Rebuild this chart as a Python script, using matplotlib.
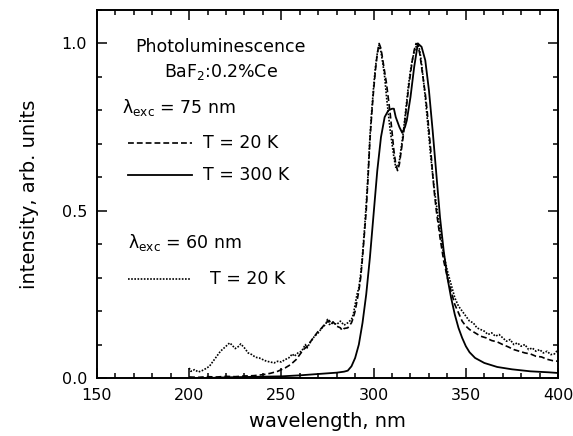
import matplotlib
matplotlib.use("Agg")
import matplotlib.pyplot as plt
from matplotlib.ticker import MultipleLocator

# T = 300 K, lambda_exc = 75 nm (solid)
wl_300 = [200, 210, 220, 230, 240, 250, 260, 270, 275, 280, 284, 286, 288, 290, 292, 294,
          296, 298, 300, 302, 304, 306, 308, 310, 311, 312, 314, 315.5, 317, 318, 320, 322,
          324, 326, 328, 330, 332, 334, 336, 338, 340, 342, 344, 346, 348, 350, 352, 355,
          360, 367, 375, 385, 395, 400]
int_300 = [0.0, 0.0, 0.002, 0.003, 0.004, 0.005, 0.008, 0.012, 0.014, 0.016, 0.019, 0.022,
           0.035, 0.06, 0.10, 0.165, 0.25, 0.36, 0.49, 0.62, 0.72, 0.78, 0.80, 0.805, 0.805,
           0.78, 0.75, 0.733, 0.75, 0.77, 0.84, 0.93, 1.0, 0.99, 0.95, 0.86, 0.74, 0.61,
           0.48, 0.38, 0.30, 0.24, 0.19, 0.15, 0.12, 0.095, 0.077, 0.06, 0.045, 0.033,
           0.026, 0.02, 0.017, 0.015]

# T = 20 K, lambda_exc = 75 nm (dashed)
wl_20_75 = [200, 205, 210, 215, 220, 225, 230, 235, 240, 244, 248, 250, 252, 255, 258, 260,
            262, 264, 266, 268, 270, 272, 274, 276, 277, 278, 280, 282, 283, 284, 286, 288,
            289, 290, 291, 292, 293, 294, 295, 296, 297, 298, 299, 300, 301, 302, 303, 304,
            305, 307, 309, 311, 312, 313, 314, 315, 316, 317, 318, 319, 320, 321, 322, 323,
            324, 325, 326, 327, 328, 329, 330, 331, 332, 333, 334, 336, 338, 340, 342, 344,
            346, 348, 350, 352, 355, 358, 361, 364, 367, 370, 373, 376, 379, 382, 385, 388,
            391, 394, 397, 400]
int_20_75 = [0.003, 0.002, 0.004, 0.003, 0.005, 0.004, 0.006, 0.007, 0.010, 0.014, 0.020,
             0.025, 0.030, 0.040, 0.055, 0.070, 0.085, 0.095, 0.110, 0.125, 0.140, 0.150,
             0.165, 0.172, 0.160, 0.168, 0.155, 0.150, 0.142, 0.148, 0.150, 0.165, 0.180,
             0.200, 0.230, 0.260, 0.300, 0.360, 0.430, 0.500, 0.600, 0.710, 0.790, 0.860,
             0.920, 0.970, 1.000, 0.985, 0.950, 0.880, 0.790, 0.680, 0.640, 0.620, 0.640,
             0.680, 0.720, 0.770, 0.820, 0.870, 0.910, 0.950, 0.980, 1.000, 0.995, 0.970,
             0.930, 0.890, 0.850, 0.800, 0.740, 0.680, 0.610, 0.550, 0.500, 0.420, 0.350,
             0.300, 0.260, 0.220, 0.195, 0.170, 0.155, 0.145, 0.135, 0.125, 0.120, 0.112,
             0.108, 0.100, 0.093, 0.085, 0.080, 0.075, 0.072, 0.065, 0.063, 0.056, 0.052,
             0.050]

# T = 20 K, lambda_exc = 60 nm (dotted)
wl_20_60 = [200, 201, 203, 205, 207, 209, 211, 213, 215, 217, 219, 221, 222, 223, 225, 227,
            228, 230, 232, 234, 236, 238, 240, 242, 244, 246, 248, 250, 252, 254, 256, 257,
            259, 261, 263, 264, 266, 268, 270, 272, 274, 275, 276, 278, 280, 282, 284, 286,
            288, 289, 290, 291, 292, 293, 294, 295, 296, 297, 298, 299, 300, 301, 302, 303,
            304, 305, 306, 307, 308, 309, 310, 311, 312, 313, 314, 315, 316, 317, 318, 319,
            320, 321, 322, 323, 324, 325, 326, 327, 328, 329, 330, 331, 332, 333, 334, 336,
            338, 340, 342, 344, 346, 348, 350, 352, 354, 356, 358, 360, 362, 364, 366, 368,
            370, 372, 374, 376, 378, 380, 382, 384, 386, 388, 390, 392, 394, 396, 398, 400]
int_20_60 = [0.030, 0.020, 0.025, 0.018, 0.022, 0.028, 0.035, 0.050, 0.065, 0.080, 0.090,
             0.100, 0.105, 0.100, 0.088, 0.095, 0.102, 0.090, 0.075, 0.070, 0.062, 0.060,
             0.055, 0.050, 0.048, 0.045, 0.050, 0.048, 0.055, 0.060, 0.072, 0.065, 0.075,
             0.080, 0.100, 0.090, 0.110, 0.125, 0.135, 0.150, 0.160, 0.175, 0.160, 0.165,
             0.160, 0.170, 0.158, 0.165, 0.175, 0.190, 0.220, 0.250, 0.270, 0.310, 0.370,
             0.440, 0.520, 0.610, 0.720, 0.800, 0.870, 0.930, 0.970, 0.995, 0.975, 0.940,
             0.900, 0.840, 0.790, 0.740, 0.700, 0.660, 0.630, 0.630, 0.650, 0.690, 0.730,
             0.780, 0.830, 0.880, 0.920, 0.950, 0.975, 0.990, 1.000, 0.980, 0.940, 0.890,
             0.840, 0.780, 0.720, 0.660, 0.610, 0.560, 0.520, 0.440, 0.370, 0.320, 0.280,
             0.240, 0.215, 0.200, 0.185, 0.170, 0.165, 0.150, 0.145, 0.140, 0.130, 0.135,
             0.125, 0.130, 0.120, 0.110, 0.115, 0.100, 0.105, 0.095, 0.100, 0.085, 0.090,
             0.080, 0.085, 0.075, 0.080, 0.070, 0.072, 0.085]

x_ticks = [150, 200, 250, 300, 350, 400]
y_ticks = [0.0, 0.5, 1.0]
y_ticklabels = ['0.0', '0.5', '1.0']

plt.rcParams['font.family'] = ['DejaVu Sans']
plt.rcParams['mathtext.fontset'] = 'dejavusans'
fig = plt.figure(figsize=(5.73, 4.36), dpi=100)
ax = fig.add_axes([0.169, 0.133, 0.805, 0.844])

ax.plot(wl_300, int_300, color='black', lw=1.3, ls='-')
ax.plot(wl_20_75, int_20_75, color='black', lw=1.2, ls=(0, (3.5, 1.8)))
ax.plot(wl_20_60, int_20_60, color='black', lw=1.2, ls=(0, (1.0, 0.9)))

ax.set_xlim(150, 400)
ax.set_ylim(0, 1.1)
ax.set_xticks(x_ticks)
ax.set_yticks(y_ticks)
ax.set_yticklabels(y_ticklabels)
ax.xaxis.set_minor_locator(MultipleLocator(10))
ax.yaxis.set_minor_locator(MultipleLocator(0.1))
ax.tick_params(which='both', direction='in', top=True, right=True, width=1.1)
ax.tick_params(which='major', length=7, labelsize=11.5, pad=7)
ax.tick_params(which='minor', length=3.5)
for s in ax.spines.values():
    s.set_linewidth(1.4)

ax.set_xlabel('wavelength, nm', fontsize=14, labelpad=7)
ax.set_ylabel('intensity, arb. units', fontsize=14, labelpad=16)

fs = 12.5
ax.text(217.2, 0.99, 'Photoluminescence', fontsize=fs, ha='center', va='center')
ax.text(217.2, 0.916, 'BaF$_2$:0.2%Ce', fontsize=fs, ha='center', va='center')
ax.text(163.6, 0.81, 'λ$_{\\mathrm{exc}}$ = 75 nm', fontsize=fs, ha='left', va='center')
ax.plot([166.8, 201.5], [0.704, 0.704], color='black', lw=1.2, ls=(0, (3.5, 1.8)))
ax.text(207.5, 0.704, 'T = 20 K', fontsize=fs, ha='left', va='center')
ax.plot([166.8, 201.5], [0.608, 0.608], color='black', lw=1.3, ls='-')
ax.text(207.5, 0.608, 'T = 300 K', fontsize=fs, ha='left', va='center')
ax.text(167.0, 0.404, 'λ$_{\\mathrm{exc}}$ = 60 nm', fontsize=fs, ha='left', va='center')
ax.plot([166.8, 200.5], [0.296, 0.296], color='black', lw=1.2, ls=(0, (1.0, 0.9)))
ax.text(211.3, 0.296, 'T = 20 K', fontsize=fs, ha='left', va='center')

fig.savefig('out.png', dpi=100)
